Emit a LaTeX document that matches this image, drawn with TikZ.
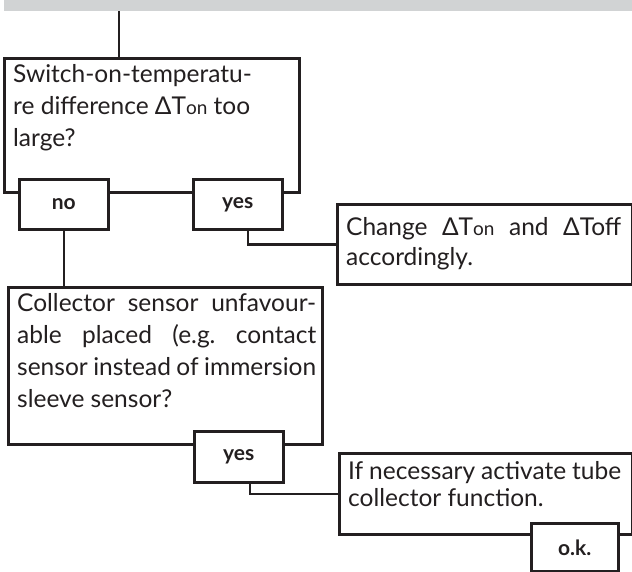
\documentclass[tikz,border=0pt]{standalone}
\usepackage{fontspec}
\setmainfont{Lato}
\usepackage{tikz}
\frenchspacing

\definecolor{ink}{HTML}{231F20}
\definecolor{strip}{HTML}{D1D3D4}

\tikzset{
  box/.style={draw=ink,line width=2.6pt,fill=white,inner sep=0pt,anchor=north west},
  tab/.style={draw=ink,line width=2.6pt,fill=white,inner sep=0pt,anchor=north west,
    minimum width=89pt,minimum height=50pt,text=ink,font=\fontsize{21}{21}\selectfont\bfseries},
  txt/.style={anchor=north west,inner sep=0pt,align=left,text=ink,
    font=\fontsize{24.5}{32}\selectfont,execute at begin node=\rule{0pt}{22pt}},
  wire/.style={draw=ink,line width=2.6pt}
}
\newcommand{\jline}[2]{\makebox[#1][s]{#2}}
\newcommand{\lo}[1]{{\fontsize{19}{19}\selectfont #1}}

\begin{document}
\begin{tikzpicture}[x=1pt,y=-1pt]
\useasboundingbox (0,0) rectangle (632,571);

\node [fill=strip,inner sep=0pt,anchor=north west,minimum width=628pt,minimum height=11pt] (bar) at (4,0) {};
\coordinate (feed) at (119,11);

% question boxes
\node [box,minimum width=295pt,minimum height=134pt] (q1) at (3,57) {};
\node [txt] (q1t) at ([shift={(10,7)}]q1.north west)
  {Switch-on-temperatu-\\re difference ΔT\lo{on} too\\large?};

\node [box,minimum width=314pt,minimum height=157pt] (q2) at (7,286) {};
\node [txt] (q2t) at ([shift={(10,7)}]q2.north west)
  {\jline{299pt}{Collector sensor unfavour-}\\\jline{299pt}{able placed (e.g. contact}\\
   \jline{299pt}{sensor instead of immersion}\\sleeve sensor?};

% action boxes
\node [box,minimum width=295pt,minimum height=80pt] (act1) at (336,203) {};
\node [txt,font=\fontsize{24.5}{30}\selectfont] (act1t) at ([shift={(10,14)}]act1.north west)
  {\jline{275pt}{Change ΔT\lo{on} and ΔToff}\\accordingly.};

\node [box,minimum width=293pt,minimum height=81pt] (act2) at (338,452) {};
\node [txt,font=\fontsize{24.5}{27}\selectfont] (act2t) at ([shift={(10,9)}]act2.north west)
  {\jline{273pt}{If necessary activate tube}\\collector function.};

% answer tabs
\node [tab] (no1) at (18,178) {no};
\node [tab] (yes1) at (192,178) {yes};
\node [tab,minimum height=51pt] (yes2) at (193,430) {yes};
\node [tab,minimum width=87pt,minimum height=48pt] (ok) at (530,522) {o.k.};

% connectors
\draw [wire] (feed) -- (feed |- q1.north);
\draw [wire] (no1.south) -- (no1.south |- q2.north);
\draw [wire] ([xshift=10pt]yes1.south) |- (act1.west);
\draw [wire] ([xshift=11pt]yes2.south) |- (act2.west);

\end{tikzpicture}
\end{document}
